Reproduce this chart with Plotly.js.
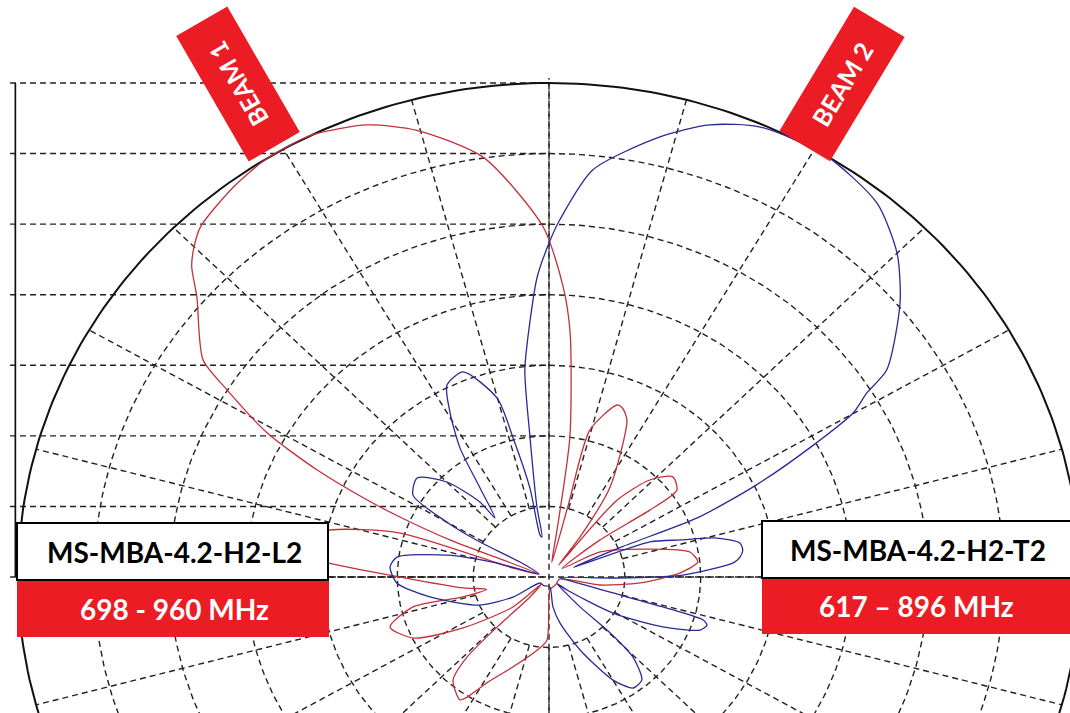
<!DOCTYPE html>
<html>
<head>
<meta charset="utf-8">
<script src="https://cdn.plot.ly/plotly-3.0.1.min.js"></script>
<style>html,body{margin:0;padding:0;background:#fff;}#chart{width:1070px;height:713px;}</style>
</head>
<body>
<div id="chart"></div>
<script>
// ---- data: azimuth (deg, 0 = up, clockwise) and relative gain (1 = outer ring)
const beam1Az = [-72,-68.1,-66.6,-65.5,-63.6,-61.2,-58,-56,-49.5,-47,-45.3,-42.8,-37,-32,-26.5,-20.5,-15.4,-8.3,-0.9,2.6,4.6,7.9,9,10,
  14,14.5,20.2,22,24.8,32.3,35.8,37,
  39.4,44,49,53.9,54.5,52,55,
  62.2,73.4,79.2,83.8,88.1,94,99.6,102,
  140,175.9,
  181.7,188.7,200.4,208.6,212.4,214,220.9,223.6,224,221.5,225,
  228.2,237.5,244.2,251.3,256.7,256,258,
  262.2,270,273.9,277,283,287.6,285,288];
const beam1Gain = [0.02,0.20,0.306,0.377,0.488,0.606,0.715,0.786,0.872,0.92,0.942,0.966,0.988,1.0,1.0,0.977,0.938,0.859,0.709,0.588,0.496,0.286,0.10,0.03,
  0.15,0.307,0.371,0.369,0.35,0.215,0.10,0.03,
  0.20,0.273,0.309,0.298,0.233,0.122,0.03,
  0.109,0.198,0.27,0.282,0.247,0.172,0.097,0.02,
  0.02,0.026,
  0.128,0.15,0.194,0.244,0.288,0.30,0.276,0.224,0.141,0.054,0.02,
  0.091,0.192,0.284,0.316,0.263,0.167,0.12,
  0.163,0.281,0.417,0.52,0.423,0.294,0.07,0.02];

const beam2Az = [-9.2,-9.1,-7.2,-6.2,-3.9,-2.1,0.2,1.6,5.7,13.2,18.3,23.6,31.4,39.2,45,50,56.6,58.1,59.9,61.8,64.5,66.8,66,67,
  69.5,73.1,76,79.2,81.5,83.6,85.3,89.1,90.9,93,
  100,105,105.8,106.7,108.1,110.7,115.2,121.2,127.8,131,
  136,134.5,135.7,140,144.8,150,158.4,167.5,173,176,
  210,234.6,
  239,246.4,259.8,267.6,273.9,278,283,286,288,
  299,298.6,300,302.9,308.9,315,319.4,319.6,
  324.2,327.3,330.8,333.7,338.7,344.9,346.5,348.7,348.7,350.8];
const beam2Gain = [0.082,0.1435,0.2857,0.4215,0.5214,0.6077,0.682,0.723,0.828,0.915,0.964,0.994,1.0,0.977,0.927,0.863,0.762,0.705,0.662,0.565,0.432,0.305,0.15,0.05,
  0.203,0.258,0.326,0.366,0.369,0.362,0.348,0.252,0.128,0.02,
  0.034,0.125,0.223,0.303,0.313,0.304,0.237,0.141,0.043,0.02,
  0.084,0.153,0.226,0.272,0.275,0.241,0.159,0.095,0.061,0.02,
  0.02,0.021,
  0.079,0.142,0.228,0.287,0.30,0.289,0.197,0.102,0.02,
  0.0625,0.148,0.222,0.305,0.319,0.272,0.20,0.157,
  0.222,0.310,0.3825,0.4335,0.4455,0.375,0.289,0.184,0.087,0.082];

const ringLevels = [1,2,3,4,5,6];        // dashed rings, in sevenths of full scale
const ringCount = 7;                     // outer solid ring
const spokeStep = 15;                    // degrees between radial grid lines
const beamLabels = ['BEAM 1','BEAM 2'];
const modelLabels = ['MS-MBA-4.2-H2-L2','MS-MBA-4.2-H2-T2'];
const bandLabels = ['698 - 960 MHz','617 \u2013 896 MHz'];

// ---- helpers
const d2r = Math.PI/180;
function toXY(az, g){
  return {x: az.map((a,i)=>g[i]*Math.sin(a*d2r)), y: az.map((a,i)=>g[i]*Math.cos(a*d2r))};
}
function ringXY(r){
  const xs=[], ys=[];
  for(let a=0;a<=360;a+=1){ xs.push(r*Math.sin(a*d2r)); ys.push(r*Math.cos(a*d2r)); }
  return {x:xs,y:ys};
}

const traces = [];
const gridColor = '#222';
const gridLine = {color:gridColor,width:1.4,dash:'6px,4px'};
// dashed rings
{
  const xs=[], ys=[];
  ringLevels.forEach(k=>{ const c=ringXY(k/ringCount); xs.push(...c.x,null); ys.push(...c.y,null); });
  traces.push({x:xs,y:ys,mode:'lines',line:gridLine,hoverinfo:'skip'});
}
// radial spokes
{
  const xs=[], ys=[];
  for(let a=0;a<360;a+=spokeStep){
    const r0 = 1/ringCount;
    xs.push(r0*Math.sin(a*d2r), Math.sin(a*d2r), null);
    ys.push(r0*Math.cos(a*d2r), Math.cos(a*d2r), null);
  }
  xs.push(0,0,null, -1,1,null); ys.push(-1.2,1.01,null, 0,0,null);
  traces.push({x:xs,y:ys,mode:'lines',line:gridLine,hoverinfo:'skip'});
}
// left rectangular level grid
{
  const xs=[], ys=[];
  for(let k=0;k<=ringCount;k++){ xs.push(-1.015,0,null); ys.push(k/ringCount,k/ringCount,null); }
  traces.push({x:xs,y:ys,mode:'lines',line:gridLine,hoverinfo:'skip'});
  traces.push({x:[-1.005,-1.005],y:[0,1],mode:'lines',line:{color:'#111',width:1.7},hoverinfo:'skip'});
}
// outer ring
{
  const c = ringXY(1);
  traces.push({x:c.x,y:c.y,mode:'lines',line:{color:'#111',width:2},hoverinfo:'skip'});
}
// beams
const b1 = toXY(beam1Az, beam1Gain);
const b2 = toXY(beam2Az, beam2Gain);
traces.push({x:b1.x,y:b1.y,mode:'lines',name:beamLabels[0],line:{color:'#c4303a',width:1.3,shape:'spline',smoothing:0.7}});
traces.push({x:b2.x,y:b2.y,mode:'lines',name:beamLabels[1],line:{color:'#2a2a96',width:1.3,shape:'spline',smoothing:0.7}});

// ---- layout (pixel helpers for labels)
const W=1070, H=713;
const px = v=>v/W, py = v=>1-v/H;
const labelRed = '#ec1c24';
const shapes = [
  {type:'rect',xref:'paper',yref:'paper',x0:px(17),x1:px(328),y0:py(580),y1:py(523),fillcolor:'#fff',line:{color:'#000',width:2},layer:'above'},
  {type:'rect',xref:'paper',yref:'paper',x0:px(17),x1:px(329),y0:py(637),y1:py(581),fillcolor:labelRed,line:{width:0},layer:'above'},
  {type:'rect',xref:'paper',yref:'paper',x0:px(762),x1:px(1076),y0:py(578),y1:py(521),fillcolor:'#fff',line:{color:'#000',width:2},layer:'above'},
  {type:'rect',xref:'paper',yref:'paper',x0:px(762),x1:px(1076),y0:py(634),y1:py(579),fillcolor:labelRed,line:{width:0},layer:'above'}
];
const fam = 'Lato, "Open Sans", sans-serif';
const annotations = [
  {xref:'paper',yref:'paper',x:px(238),y:py(84),xanchor:'center',yanchor:'middle',text:'<b>'+beamLabels[0]+'</b>',showarrow:false,
   textangle:-120,width:142,height:56,bgcolor:labelRed,font:{family:fam,size:25,color:'#fff'}},
  {xref:'paper',yref:'paper',x:px(842),y:py(84),xanchor:'center',yanchor:'middle',text:'<b>'+beamLabels[1]+'</b>',showarrow:false,
   textangle:-59,width:142,height:56,bgcolor:labelRed,font:{family:fam,size:25,color:'#fff'}},
  {xref:'paper',yref:'paper',x:px(174),y:py(552),xanchor:'center',yanchor:'middle',text:'<b>'+modelLabels[0]+'</b>',showarrow:false,font:{family:fam,size:28,color:'#000'}},
  {xref:'paper',yref:'paper',x:px(174),y:py(609),xanchor:'center',yanchor:'middle',text:'<b>'+bandLabels[0]+'</b>',showarrow:false,font:{family:fam,size:28,color:'#fff'}},
  {xref:'paper',yref:'paper',x:px(918),y:py(550),xanchor:'center',yanchor:'middle',text:'<b>'+modelLabels[1]+'</b>',showarrow:false,font:{family:fam,size:28,color:'#000'}},
  {xref:'paper',yref:'paper',x:px(916),y:py(606),xanchor:'center',yanchor:'middle',text:'<b>'+bandLabels[1]+'</b>',showarrow:false,font:{family:fam,size:28,color:'#fff'}}
];
const layout = {
  width:W,height:H,margin:{l:0,r:0,t:0,b:0},showlegend:false,
  paper_bgcolor:'#fff',plot_bgcolor:'#fff',
  xaxis:{range:[-549/531,(W-549)/531],visible:false,fixedrange:true},
  yaxis:{range:[-(H-577)/494,577/494],visible:false,fixedrange:true},
  shapes:shapes,annotations:annotations
};
Plotly.newPlot('chart',traces,layout,{staticPlot:true,displayModeBar:false});
</script>
</body>
</html>
